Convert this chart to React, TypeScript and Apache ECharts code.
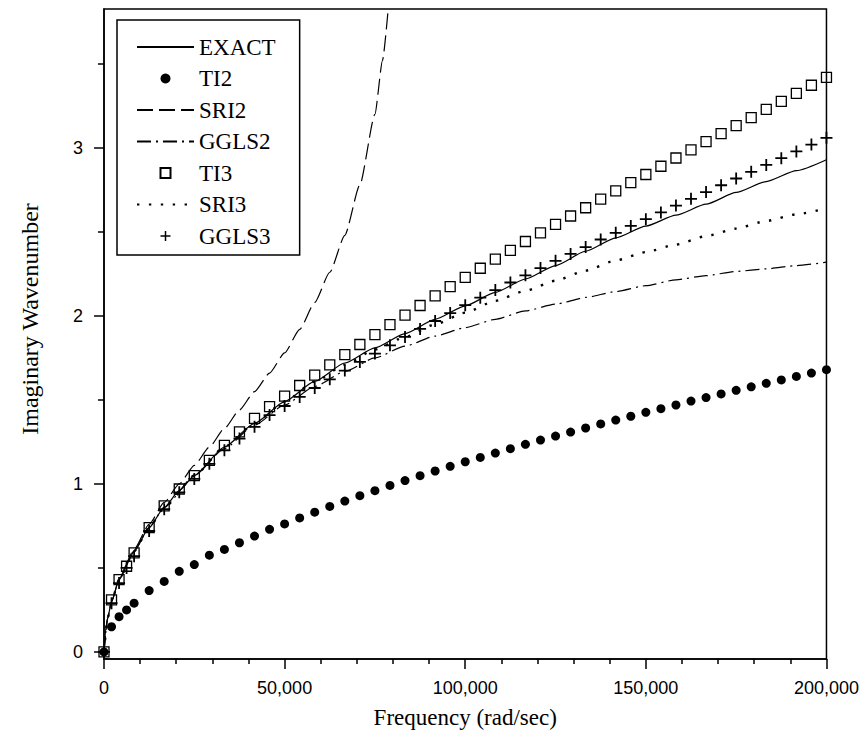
import React, { useEffect, useRef } from 'react';
import * as echarts from 'echarts';

// ---------- data ----------
const markerFreq = [0, 2083, 4167, 6250, 8333, 12500, 16667, 20833, 25000, 29167, 33333, 37500, 41667, 45833, 50000, 54167, 58333, 62500, 66667, 70833, 75000, 79167, 83333, 87500, 91667, 95833, 100000, 104167, 108333, 112500, 116667, 120833, 125000, 129167, 133333, 137500, 141667, 145833, 150000, 154167, 158333, 162500, 166667, 170833, 175000, 179167, 183333, 187500, 191667, 195833, 200000];

const ti2Values = [0, 0.15, 0.21, 0.25, 0.29, 0.365, 0.42, 0.48, 0.52, 0.576, 0.61, 0.65, 0.69, 0.73, 0.762, 0.798, 0.832, 0.866, 0.898, 0.93, 0.96, 0.991, 1.02, 1.049, 1.077, 1.105, 1.132, 1.158, 1.184, 1.21, 1.236, 1.261, 1.285, 1.309, 1.333, 1.357, 1.38, 1.403, 1.426, 1.448, 1.47, 1.493, 1.514, 1.536, 1.557, 1.578, 1.599, 1.619, 1.64, 1.66, 1.68];

const ti3Values = [0, 0.31, 0.43, 0.51, 0.59, 0.74, 0.87, 0.97, 1.05, 1.14, 1.23, 1.31, 1.39, 1.46, 1.523, 1.586, 1.648, 1.709, 1.77, 1.83, 1.889, 1.948, 2.005, 2.062, 2.119, 2.175, 2.23, 2.284, 2.338, 2.39, 2.443, 2.494, 2.545, 2.595, 2.644, 2.695, 2.744, 2.793, 2.842, 2.891, 2.94, 2.989, 3.037, 3.085, 3.133, 3.181, 3.229, 3.277, 3.325, 3.373, 3.42];

const ggls3Values = [0, 0.29, 0.41, 0.5, 0.57, 0.72, 0.85, 0.95, 1.03, 1.12, 1.2, 1.27, 1.34, 1.41, 1.464, 1.518, 1.571, 1.623, 1.675, 1.726, 1.776, 1.825, 1.875, 1.923, 1.97, 2.017, 2.064, 2.109, 2.154, 2.199, 2.242, 2.285, 2.328, 2.369, 2.41, 2.455, 2.495, 2.536, 2.576, 2.616, 2.657, 2.697, 2.737, 2.778, 2.818, 2.858, 2.899, 2.939, 2.979, 3.02, 3.06];

const exactFreq = [0, 500, 1000, 2083, 4167, 6250, 8333, 12500, 16667, 20833, 25000, 33333, 41667, 50000, 58333, 66667, 75000, 83333, 91667, 100000, 108333, 116667, 125000, 133333, 141667, 150000, 158333, 166667, 175000, 183333, 191667, 200000];
const exactValues = [0, 0.14, 0.2, 0.3, 0.43, 0.52, 0.6, 0.74, 0.86, 0.96, 1.05, 1.22, 1.36, 1.49, 1.61, 1.72, 1.81, 1.895, 1.98, 2.06, 2.14, 2.22, 2.3, 2.385, 2.465, 2.535, 2.6, 2.665, 2.735, 2.8, 2.865, 2.93];

const sri2Freq = [0, 1000, 2083, 4167, 8333, 12500, 16667, 20833, 25000, 29167, 33333, 37500, 41667, 45833, 50000, 54167, 58333, 62500, 66667, 70833, 75000, 77083, 79167];
const sri2Values = [0, 0.2, 0.3, 0.43, 0.61, 0.76, 0.89, 1.0, 1.11, 1.22, 1.33, 1.44, 1.55, 1.66, 1.78, 1.92, 2.08, 2.26, 2.48, 2.78, 3.2, 3.52, 3.95];

const ggls2Freq = [0, 1000, 2083, 4167, 8333, 12500, 16667, 25000, 33333, 41667, 50000, 58333, 66667, 75000, 83333, 91667, 100000, 108333, 116667, 125000, 133333, 141667, 150000, 158333, 166667, 175000, 183333, 191667, 200000];
const ggls2Values = [0, 0.2, 0.3, 0.43, 0.6, 0.74, 0.86, 1.05, 1.21, 1.35, 1.47, 1.58, 1.67, 1.75, 1.82, 1.88, 1.93, 1.98, 2.03, 2.07, 2.11, 2.145, 2.18, 2.215, 2.24, 2.265, 2.28, 2.3, 2.32];

const sri3Freq = [0, 1000, 2083, 4167, 8333, 12500, 16667, 25000, 33333, 41667, 50000, 58333, 66667, 75000, 83333, 91667, 100000, 108333, 116667, 125000, 133333, 141667, 150000, 158333, 166667, 175000, 183333, 191667, 200000];
const sri3Values = [0, 0.2, 0.3, 0.43, 0.6, 0.74, 0.86, 1.05, 1.22, 1.36, 1.49, 1.61, 1.71, 1.8, 1.875, 1.95, 2.02, 2.09, 2.15, 2.21, 2.27, 2.33, 2.38, 2.425, 2.475, 2.52, 2.565, 2.605, 2.64];

const xMajorTicks = [0, 50000, 100000, 150000, 200000];
const xMinorTicks = [10000, 20000, 30000, 40000, 60000, 70000, 80000, 90000, 110000, 120000, 130000, 140000, 160000, 170000, 180000, 190000];
const yMajorTicks = [0, 1, 2, 3];
const yMinorTicks = [0.5, 1.5, 2.5, 3.5];

const xTitle = 'Frequency (rad/sec)';
const yTitle = 'Imaginary Wavenumber';
const legendNames = ['EXACT', 'TI2', 'SRI2', 'GGLS2', 'TI3', 'SRI3', 'GGLS3'];

const zip = (xs: number[], ys: number[]) => xs.map((x, i) => [x, ys[i]]);

const SERIF = "'Liberation Serif', 'Times New Roman', serif";
const SANS = "'Liberation Sans', Arial, sans-serif";
const PLUS = 'path://M5.1,0H6.9V5.1H12V6.9H6.9V12H5.1V6.9H0V5.1H5.1Z';
const SQUARE = 'path://M0,0H10V10H0Z';

export default function App() {
  const ref = useRef<HTMLDivElement>(null);
  useEffect(() => {
    if (!ref.current) return;
    const chart = echarts.init(ref.current, undefined, { renderer: 'svg' });
    const yMin = -0.042;
    const yMax = 3.827;
    const lineSeries = (name: string, xs: number[], ys: number[], type: any, width: number) => ({
      name,
      type: 'line',
      data: zip(xs, ys),
      symbol: 'none',
      showSymbol: false,
      smooth: 0.2,
      smoothMonotone: 'x',
      lineStyle: { color: '#000', width, type, cap: 'butt' },
      itemStyle: { color: '#000' },
      z: 3,
    });
    chart.setOption({
      animation: false,
      backgroundColor: '#fff',
      grid: {
        left: 104, right: 34, top: 9, bottom: 86,
        show: true, borderColor: '#000', borderWidth: 1.5, backgroundColor: 'transparent',
      },
      legend: {
        orient: 'vertical',
        left: 117,
        top: 20,
        padding: [15, 24, 7, 19],
        itemWidth: 57,
        itemHeight: 10,
        itemGap: 7.5,
        borderColor: '#000',
        borderWidth: 1.5,
        backgroundColor: '#fff',
        selectedMode: false,
        symbolKeepAspect: true,
        textStyle: { fontFamily: SERIF, fontSize: 23, color: '#000', lineHeight: 24 },
        data: legendNames.map((n) =>
          n === 'TI2' || n === 'GGLS3'
            ? { name: n }
            : n === 'TI3'
            ? { name: n, icon: SQUARE }
            : { name: n, itemStyle: { opacity: 0 } }
        ),
      },
      xAxis: [
        {
          type: 'value',
          min: 0,
          max: 200000,
          position: 'bottom',
          name: xTitle,
          nameLocation: 'middle',
          nameGap: 47,
          nameTextStyle: { fontFamily: SERIF, fontSize: 23, color: '#000' },
          axisLine: { onZero: false, lineStyle: { color: '#000', width: 1.5 } },
          axisTick: { customValues: xMajorTicks, length: 10, lineStyle: { color: '#000', width: 1.5 } },
          axisLabel: {
            customValues: xMajorTicks,
            margin: 20,
            fontFamily: SANS,
            fontSize: 18,
            color: '#000',
            formatter: (v: number) => v.toLocaleString('en-US'),
          },
          splitLine: { show: false },
        },
        {
          type: 'value',
          min: 0,
          max: 200000,
          position: 'bottom',
          axisLine: { show: false, onZero: false },
          axisTick: { customValues: xMinorTicks, length: 5, lineStyle: { color: '#000', width: 1.5 } },
          axisLabel: { show: false },
          splitLine: { show: false },
        },
      ],
      yAxis: [
        {
          type: 'value',
          min: yMin,
          max: yMax,
          position: 'left',
          name: yTitle,
          nameLocation: 'middle',
          nameRotate: 90,
          nameGap: 62,
          nameTextStyle: { fontFamily: SERIF, fontSize: 24, color: '#000', padding: [0, 0, 0, 30] },
          axisLine: { onZero: false, lineStyle: { color: '#000', width: 1.5 } },
          axisTick: { customValues: yMajorTicks, length: 10, lineStyle: { color: '#000', width: 1.5 } },
          axisLabel: {
            customValues: yMajorTicks,
            margin: 21,
            fontFamily: SANS,
            fontSize: 18,
            color: '#000',
            formatter: (v: number) => String(v),
          },
          splitLine: { show: false },
        },
        {
          type: 'value',
          min: yMin,
          max: yMax,
          position: 'left',
          axisLine: { show: false, onZero: false },
          axisTick: { customValues: yMinorTicks, length: 6, lineStyle: { color: '#000', width: 1.5 } },
          axisLabel: { show: false },
          splitLine: { show: false },
        },
      ],
      series: [
        lineSeries('EXACT', exactFreq, exactValues, 'solid', 1.2),
        {
          name: 'TI2',
          type: 'scatter',
          data: zip(markerFreq, ti2Values),
          symbol: 'circle',
          symbolSize: 9,
          itemStyle: { color: '#000', opacity: 1 },
          z: 4,
        },
        lineSeries('SRI2', sri2Freq, sri2Values, [16, 6], 1.2),
        lineSeries('GGLS2', ggls2Freq, ggls2Values, [14, 5, 2, 5], 1.2),
        {
          name: 'TI3',
          type: 'scatter',
          data: zip(markerFreq, ti3Values),
          symbol: SQUARE,
          symbolSize: 10,
          itemStyle: { color: 'rgba(255,255,255,0)', borderColor: '#000', borderWidth: 1.3, opacity: 1 },
          z: 4,
        },
        lineSeries('SRI3', sri3Freq, sri3Values, [2.4, 9.5], 2.4),
        {
          name: 'GGLS3',
          type: 'scatter',
          data: zip(markerFreq, ggls3Values),
          symbol: PLUS,
          symbolSize: 12,
          itemStyle: { color: '#000', opacity: 1 },
          z: 5,
        },
      ],
    });
    return () => chart.dispose();
  }, []);
  return (
    <div
      ref={ref}
      style={{ position: 'fixed', left: 0, top: 0, width: 862, height: 745, background: '#fff' }}
    />
  );
}
